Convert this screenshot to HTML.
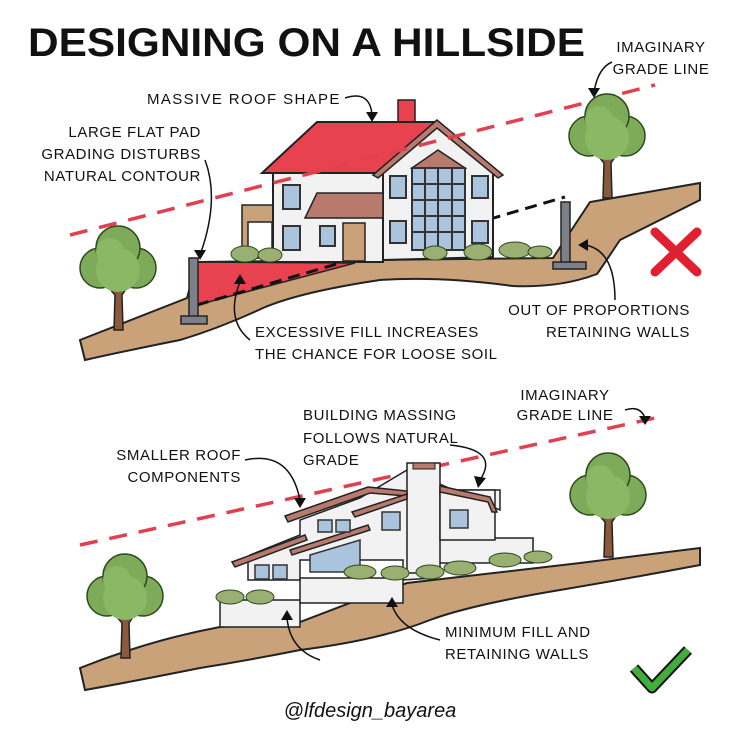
<!DOCTYPE html>
<html><head><meta charset="utf-8"><style>
html,body{margin:0;padding:0;background:#fff;}
svg{display:block;}
text{font-family:"Liberation Sans",sans-serif;fill:#111;}
.l{font-size:15px;letter-spacing:0.6px;}
</style></head><body>
<svg width="736" height="736" viewBox="0 0 736 736" xmlns="http://www.w3.org/2000/svg">
<defs>
<g id="tree">
<path d="M-4,0 L-3,-35 L-14,-48 L-2,-42 L0,-55 L4,-42 L14,-50 L4,-35 L5,0 Z" fill="#8a5a3c" stroke="#222" stroke-width="1.5"/>
<circle cx="-18" cy="-62" r="20" fill="#7eab5a" stroke="#2d4a1e" stroke-width="1.5"/>
<circle cx="18" cy="-62" r="20" fill="#7eab5a" stroke="#2d4a1e" stroke-width="1.5"/>
<circle cx="0" cy="-82" r="22" fill="#7eab5a" stroke="#2d4a1e" stroke-width="1.5"/>
<circle cx="0" cy="-60" r="22" fill="#8bb864"/>
<circle cx="-8" cy="-78" r="14" fill="#8bb864"/>
</g>
</defs>

<text x="28" y="56" font-size="40" font-weight="bold" textLength="557" lengthAdjust="spacingAndGlyphs">DESIGNING ON A HILLSIDE</text>

<!-- TOP SECTION -->
<path d="M80,340 L187,298 L197,262 L553,258 L590,202 L700,183 L700,200 Q650,225 620,240 Q600,270 597,274 Q560,288 513,286 Q440,276 380,280 Q300,292 263,308 Q220,328 180,340 Q120,352 85,360 Z" fill="#c9a27a" stroke="#222" stroke-width="2"/>
<path d="M197,262 L355,263 L197,305 Z" fill="#e8414f" stroke="#222" stroke-width="1.5"/>
<line x1="197" y1="305" x2="565" y2="197" stroke="#111" stroke-width="3" stroke-dasharray="12,7"/>
<rect x="189" y="258" width="9" height="62" fill="#7d8088" stroke="#222" stroke-width="1.5"/>
<rect x="181" y="316" width="26" height="8" fill="#7d8088" stroke="#222" stroke-width="1.5"/>
<rect x="561" y="202" width="9" height="62" fill="#7d8088" stroke="#222" stroke-width="1.5"/>
<rect x="553" y="262" width="33" height="7" fill="#7d8088" stroke="#222" stroke-width="1.5"/>
<rect x="242" y="205" width="32" height="53" fill="#c9a27a" stroke="#222" stroke-width="1.5"/>
<rect x="248" y="222" width="24" height="36" fill="#fff" stroke="#222" stroke-width="1.5"/>
<rect x="273" y="173" width="110" height="89" fill="#f2f2f2" stroke="#222" stroke-width="2"/>
<path d="M383,260 L383,170 L437,127 L493,172 L493,257 Z" fill="#f2f2f2" stroke="#222" stroke-width="2"/>
<rect x="398" y="100" width="17" height="33" fill="#e8414f" stroke="#222" stroke-width="1.5"/>
<path d="M262,173 L317,122 L437,122 L380,173 Z" fill="#e8414f" stroke="#222" stroke-width="2"/>
<path d="M373,175 L437,120 L503,175 L498,178 L437,128 L378,178 Z" fill="#b87a6c" stroke="#222" stroke-width="1.5"/>
<path d="M412,168 L438,150 L465,168 Z" fill="#b87a6c" stroke="#222" stroke-width="1.5"/>
<rect x="412" y="168" width="53" height="82" fill="#a9c4dc" stroke="#333" stroke-width="2"/>
<path d="M425,168V250M438,168V250M452,168V250M412,184H465M412,200H465M412,216H465M412,232H465" stroke="#333" stroke-width="2"/>
<path d="M305,218 L317,193 L383,193 L383,218 Z" fill="#b87a6c" stroke="#222" stroke-width="1.5"/>
<rect x="343" y="223" width="22" height="38" fill="#c9a27a" stroke="#222" stroke-width="1.5"/>
<g fill="#a9c4dc" stroke="#333" stroke-width="2">
<rect x="283" y="185" width="17" height="24"/><rect x="283" y="226" width="17" height="24"/>
<rect x="320" y="226" width="15" height="20"/>
<rect x="390" y="176" width="16" height="22"/><rect x="390" y="221" width="16" height="22"/>
<rect x="472" y="176" width="16" height="22"/><rect x="472" y="221" width="16" height="22"/>
</g>
<g fill="#9aaf72" stroke="#2d4a1e" stroke-width="1">
<ellipse cx="245" cy="254" rx="14" ry="8"/><ellipse cx="270" cy="255" rx="12" ry="7"/>
<ellipse cx="435" cy="253" rx="12" ry="7"/><ellipse cx="478" cy="252" rx="14" ry="8"/>
<ellipse cx="515" cy="250" rx="16" ry="8"/><ellipse cx="540" cy="252" rx="12" ry="6"/>
</g>
<line x1="70" y1="235" x2="655" y2="85" stroke="#e04050" stroke-width="3.5" stroke-dasharray="18,12"/>
<use href="#tree" x="118" y="330"/>
<use href="#tree" x="607" y="198"/>
<path d="M655,232 L697,272 M697,232 L655,272" stroke="#e02030" stroke-width="9" stroke-linecap="round"/>

<text class="l" x="147" y="104" textLength="193">MASSIVE ROOF SHAPE</text>
<text class="l" x="201" y="137" text-anchor="end">LARGE FLAT PAD</text>
<text class="l" x="201" y="159" text-anchor="end">GRADING DISTURBS</text>
<text class="l" x="201" y="181" text-anchor="end">NATURAL CONTOUR</text>
<text class="l" x="661" y="52" text-anchor="middle">IMAGINARY</text>
<text class="l" x="661" y="74" text-anchor="middle">GRADE LINE</text>
<text class="l" x="690" y="315" text-anchor="end">OUT OF PROPORTIONS</text>
<text class="l" x="690" y="337" text-anchor="end">RETAINING WALLS</text>
<text class="l" x="255" y="337">EXCESSIVE FILL INCREASES</text>
<text class="l" x="255" y="359">THE CHANCE FOR LOOSE SOIL</text>
<g fill="none" stroke="#111" stroke-width="1.5">
<path d="M345,98 Q370,90 372,115"/><path d="M205,160 Q220,200 200,255"/>
<path d="M612,62 Q598,68 594,92"/><path d="M615,300 Q615,250 585,245"/>
<path d="M250,340 Q225,320 240,282"/>
</g>
<g fill="#111"><path d="M366,112 L378,112 L372,122Z"/><path d="M194,250 L206,250 L200,260Z"/><path d="M588,88 L600,88 L594,98Z"/><path d="M588,239 L588,251 L578,245Z"/><path d="M234,284 L246,284 L240,274Z"/></g>

<!-- BOTTOM SECTION -->
<path d="M80,668 Q150,640 220,627 L300,622 L350,603 L407,583 L580,563 L700,548 L700,565 Q620,580 560,590 Q470,605 430,620 Q380,640 300,650 Q250,660 200,668 Q130,682 85,690 Z" fill="#c9a27a" stroke="#222" stroke-width="2"/>
<line x1="80" y1="545" x2="655" y2="418" stroke="#e04050" stroke-width="3.5" stroke-dasharray="18,12"/>
<rect x="220" y="600" width="80" height="27" fill="#f2f2f2" stroke="#222" stroke-width="1.5"/>
<rect x="300" y="578" width="103" height="25" fill="#f2f2f2" stroke="#222" stroke-width="1.5"/>
<path d="M248,562 L248,580 L300,580 L300,560 L403,560 L403,580 L433,578 L433,563 L533,563 L533,538 L440,538 L440,490 L500,490 L500,510 L407,470 L360,498 L300,520 L300,535 L250,555 Z" fill="#f2f2f2" stroke="#222" stroke-width="1.5"/>
<rect x="407" y="463" width="33" height="110" fill="#f2f2f2" stroke="#222" stroke-width="1.5"/>
<rect x="413" y="463" width="22" height="6" fill="#b87a6c" stroke="#222"/>
<rect x="440" y="490" width="55" height="50" fill="#f2f2f2" stroke="#222" stroke-width="1.5"/>
<g fill="#b87a6c" stroke="#222" stroke-width="1.5">
<path d="M285,516 L368,487 L407,491 L407,496 L370,493 L288,522 Z"/>
<path d="M352,512 L407,494 L407,499 L355,517 Z"/>
<path d="M440,486 L490,497 L497,512 L492,512 L488,502 L440,492 Z"/>
<path d="M232,562 L305,535 L307,540 L235,567 Z"/>
<path d="M290,550 L368,525 L370,530 L292,555 Z"/>
</g>
<g fill="#a9c4dc" stroke="#333" stroke-width="1.5">
<rect x="318" y="520" width="14" height="12"/><rect x="336" y="520" width="14" height="12"/>
<rect x="382" y="512" width="18" height="18"/><rect x="450" y="510" width="18" height="18"/>
<rect x="255" y="565" width="14" height="14"/><rect x="273" y="565" width="14" height="14"/>
<path d="M310,555 L360,540 L360,572 L310,572Z"/>
</g>
<g fill="#9aaf72" stroke="#2d4a1e" stroke-width="1">
<ellipse cx="230" cy="597" rx="14" ry="7"/><ellipse cx="260" cy="597" rx="14" ry="7"/>
<ellipse cx="360" cy="572" rx="16" ry="7"/><ellipse cx="395" cy="573" rx="14" ry="7"/>
<ellipse cx="430" cy="572" rx="14" ry="7"/><ellipse cx="460" cy="568" rx="16" ry="7"/>
<ellipse cx="505" cy="560" rx="16" ry="7"/><ellipse cx="538" cy="557" rx="14" ry="6"/>
</g>
<use href="#tree" x="125" y="658"/>
<use href="#tree" x="608" y="557"/>
<path d="M634,668 L652,688 L688,650" stroke="#111" stroke-width="11" fill="none" stroke-linejoin="round"/>
<path d="M634,668 L652,688 L688,650" stroke="#3fae3a" stroke-width="7" fill="none" stroke-linejoin="round"/>

<text class="l" x="565" y="400" text-anchor="middle">IMAGINARY</text>
<text class="l" x="565" y="420" text-anchor="middle">GRADE LINE</text>
<text class="l" x="303" y="420">BUILDING MASSING</text>
<text class="l" x="303" y="443">FOLLOWS NATURAL</text>
<text class="l" x="303" y="465">GRADE</text>
<text class="l" x="241" y="460" text-anchor="end">SMALLER ROOF</text>
<text class="l" x="241" y="482" text-anchor="end">COMPONENTS</text>
<text class="l" x="445" y="637">MINIMUM FILL AND</text>
<text class="l" x="445" y="659">RETAINING WALLS</text>
<text x="370" y="717" text-anchor="middle" font-size="20" font-style="italic">@lfdesign_bayarea</text>
<g fill="none" stroke="#111" stroke-width="1.5">
<path d="M625,410 Q640,405 645,418"/><path d="M450,445 Q500,450 480,480"/>
<path d="M245,460 Q290,450 300,500"/><path d="M440,640 Q400,630 392,605"/>
<path d="M320,660 Q290,650 287,618"/>
</g>
<g fill="#111"><path d="M639,416 L651,416 L645,425Z"/><path d="M474,476 L486,478 L478,488Z"/><path d="M294,498 L306,498 L300,508Z"/><path d="M386,607 L398,607 L392,597Z"/><path d="M281,620 L293,620 L287,610Z"/></g>
</svg>
</body></html>
